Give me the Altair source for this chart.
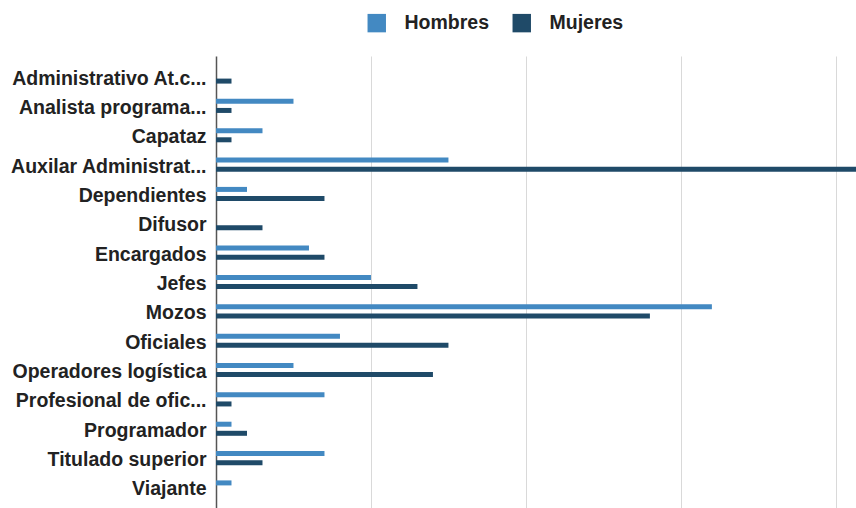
import altair as alt
import pandas as pd

# Job categories (as labelled on the axis)
categories = [
    "Administrativo At.c...",
    "Analista programa...",
    "Capataz",
    "Auxilar Administrat...",
    "Dependientes",
    "Difusor",
    "Encargados",
    "Jefes",
    "Mozos",
    "Oficiales",
    "Operadores logística",
    "Profesional de ofic...",
    "Programador",
    "Titulado superior",
    "Viajante",
]
hombres = [0, 5, 3, 15, 2, 0, 6, 10, 32, 8, 5, 7, 1, 7, 1]
mujeres = [1, 1, 1, 45, 7, 3, 7, 13, 28, 15, 14, 1, 2, 3, 0]

series = ["Hombres", "Mujeres"]
colors = ["#4389c2", "#1f4a68"]

rows = []
for cat, h, m in zip(categories, hombres, mujeres):
    rows.append({"puesto": cat, "sexo": "Hombres", "personas": h})
    rows.append({"puesto": cat, "sexo": "Mujeres", "personas": m})
df = pd.DataFrame(rows)

FONT = "Liberation Sans"

chart = (
    alt.Chart(df)
    .mark_bar(clip=True)
    .encode(
        x=alt.X(
            "personas:Q",
            scale=alt.Scale(domain=[0, 41.3], nice=False, zero=True),
            axis=alt.Axis(
                values=[10, 20, 30, 40],
                labels=False,
                ticks=False,
                domain=False,
                title=None,
                grid=True,
                gridColor="#d9d9d9",
                gridWidth=1,
            ),
        ),
        y=alt.Y(
            "puesto:N",
            sort=categories,
            scale=alt.Scale(paddingInner=0.52, paddingOuter=0.46),
            axis=alt.Axis(
                title=None,
                ticks=False,
                domain=True,
                domainColor="#555555",
                domainWidth=1.5,
                labelFont=FONT,
                labelFontWeight="bold",
                labelFontSize=19.5,
                labelColor="#222222",
                labelPadding=10,
                labelOffset=2,
                labelLimit=400,
            ),
        ),
        yOffset=alt.YOffset(
            "sexo:N",
            sort=series,
            scale=alt.Scale(paddingInner=0.45, paddingOuter=0),
        ),
        color=alt.Color(
            "sexo:N",
            sort=series,
            scale=alt.Scale(domain=series, range=colors),
            legend=alt.Legend(
                title=None,
                orient="none",
                direction="horizontal",
                legendX=151,
                legendY=-43,
                symbolType="square",
                symbolSize=340,
                symbolStrokeWidth=0,
                symbolOpacity=1,
                labelFont=FONT,
                labelFontSize=19.5,
                labelFontWeight="bold",
                labelColor="#222222",
                labelOffset=18,
                columnPadding=22,
            ),
        ),
    )
    .properties(
        width=640,
        height=452,
        autosize=alt.AutoSizeParams(type="none"),
        padding={"left": 216, "top": 56, "right": 0, "bottom": 0},
    )
    .configure_view(stroke=None)
)

chart.save("out.html", embed_options={"renderer": "svg", "actions": False})
